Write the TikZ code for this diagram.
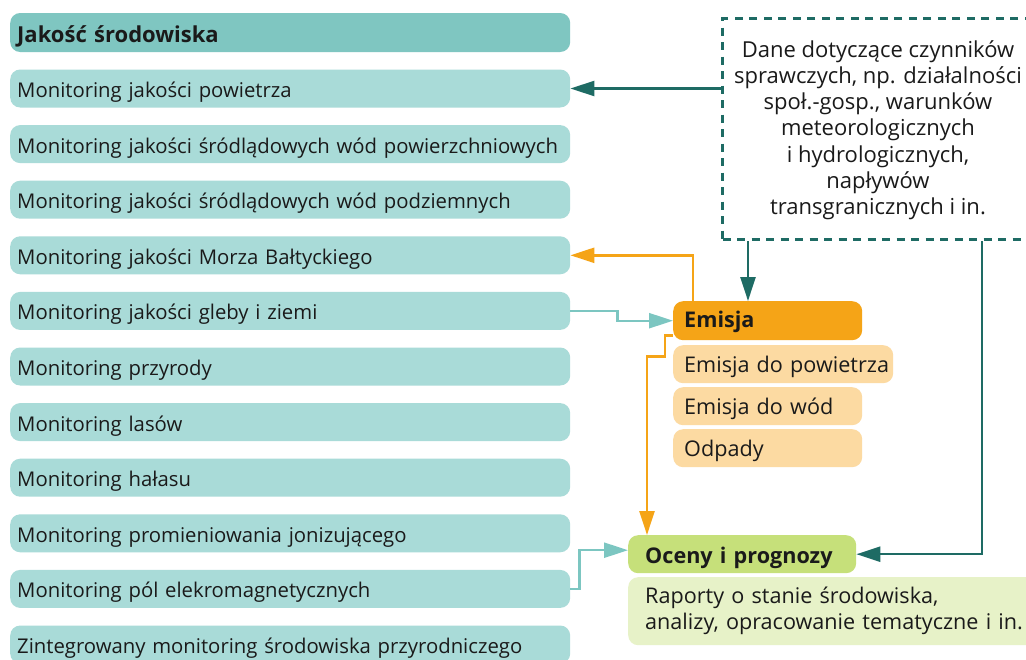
\documentclass[tikz,border=0pt]{standalone}
\usepackage{fontspec}
\setmainfont{Open Sans}
\usetikzlibrary{arrows.meta,calc}
\definecolor{hdr}{HTML}{7FC6C1}
\definecolor{row}{HTML}{A9DBD8}
\definecolor{dteal}{HTML}{1E6B64}
\definecolor{lteal}{HTML}{7CC6C1}
\definecolor{orng}{HTML}{F5A417}
\definecolor{lorng}{HTML}{FCDAA2}
\definecolor{lime}{HTML}{C6E07A}
\definecolor{llime}{HTML}{E7F2C8}
\definecolor{txt}{HTML}{1A1A1A}
\begin{document}
\begin{tikzpicture}[x=1pt,y=-1pt,
  font=\fontsize{20.3}{26}\selectfont, text=txt,
  listbox/.style={anchor=west, rectangle, rounded corners=10pt, fill=row,
    minimum width=560pt, minimum height=38pt, text width=546pt, align=left, inner sep=7pt,
    text height=20pt, text depth=2pt},
  hdrbox/.style={listbox, fill=hdr, minimum height=39pt, text height=21pt,
    font=\fontsize{22}{26}\selectfont\bfseries},
  bigf/.style={font=\fontsize{21.6}{26}\selectfont},
  subbox/.style={anchor=north west, rectangle, rounded corners=10pt, fill=lorng,
    minimum height=38pt, align=left, inner xsep=11pt, inner ysep=2pt, bigf,
    text height=18pt, text depth=2pt},
  conn/.style={line width=2.4pt, -{Triangle[length=24pt,width=15pt]}},
]
\clip (0,0) rectangle (1026,659);
\fill[white] (0,0) rectangle (1026,659);

\node[hdrbox] (h) at (10,32.5) {Jakość środowiska};
\foreach \t [count=\i] in {Monitoring jakości powietrza,
  Monitoring jakości śródlądowych wód powierzchniowych,
  Monitoring jakości śródlądowych wód podziemnych,
  Monitoring jakości Morza Bałtyckiego,
  Monitoring jakości gleby i ziemi,
  Monitoring przyrody,
  Monitoring lasów,
  Monitoring hałasu,
  Monitoring promieniowania jonizującego,
  Monitoring pól elekromagnetycznych,
  Zintegrowany monitoring środowiska przyrodniczego}
  \node[listbox] (r\i) at (10,{88.5+(\i-1)*55.6}) {\t};

% dashed box
\node[draw=dteal, line width=3pt, dash pattern=on 8pt off 6.5pt, anchor=north west,
  minimum width=320pt, minimum height=221pt, inner sep=0pt] (dash) at (721,17) {};
\node[align=center, anchor=north, inner sep=0pt, font=\fontsize{22}{26.3}\selectfont] (dtxt) at (878,40)
  {Dane dotyczące czynników\\sprawczych, np. działalności\\społ.-gosp., warunków\\meteorologicznych\\i hydrologicznych,\\napływów\\transgranicznych i in.};

% Emisja
\node[anchor=north west, rectangle, rounded corners=10pt, fill=orng, minimum width=189pt,
  minimum height=39pt, text width=167pt, align=left, inner xsep=11pt, inner ysep=0pt,
  text height=16pt, text depth=2pt, font=\fontsize{21.6}{26}\selectfont\bfseries] (emi) at (673,301) {Emisja};
\node[subbox, text width=198pt] (e1) at (673,345) {\mbox{Emisja do powietrza}};
\node[subbox, text width=167pt] (e2) at (673,387) {Emisja do wód};
\node[subbox, text width=167pt] (e3) at (673,429) {Odpady};

% Oceny
\node[anchor=north west, rectangle, rounded corners=10pt, fill=lime, minimum width=228pt,
  minimum height=38pt, text width=194pt, align=left, inner xsep=17pt, inner ysep=0pt,
  text height=20pt, text depth=2pt, font=\fontsize{21.6}{26}\selectfont\bfseries] (oc) at (628,535) {Oceny i prognozy};
\node[anchor=north west, rectangle, rounded corners=10pt, fill=llime, minimum width=420pt,
  minimum height=68pt, text width=386pt, align=left, inner xsep=17pt, inner ysep=5pt, font=\fontsize{21.6}{26}\selectfont] (rap) at (628,577) {Raporty o stanie środowiska,\\analizy, opracowanie tematyczne i in.};

% connectors
\draw[conn, dteal] (dash.west |- r1.east) -- (r1.east);
\coordinate (c2) at ($(emi.north west)+(75,0)$);
\draw[conn, dteal] (c2 |- dash.south) -- (c2 |- emi.north);
\coordinate (c3) at ($(dash.south west)+(261,0)$);
\draw[conn, dteal] (c3) |- (oc.east);
\coordinate (c4) at ($(emi.north west)+(20,0)$);
\draw[conn, orng] (c4) |- (r4.east);
\draw[conn, lteal] (r5.east) -- ++(47,0) |- (emi.west);
\coordinate (c6) at ($(oc.north west)+(19,0)$);
\draw[conn, orng] ([yshift=5pt]emi.south west) -- ++(-8,0) -- ++(0,21) -| (c6);
\draw[conn, lteal] (r10.east) -- ++(9,0) |- ([yshift=4pt]oc.west);
\end{tikzpicture}
\end{document}
